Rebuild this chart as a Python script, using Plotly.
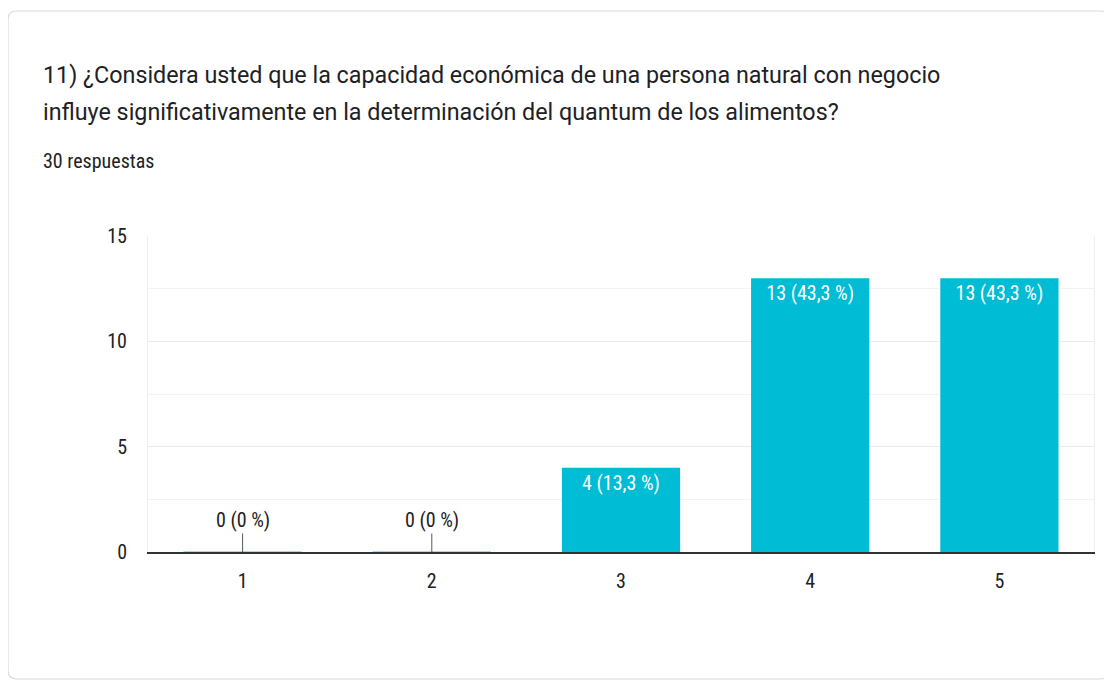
import plotly.graph_objects as go

categories = ["1", "2", "3", "4", "5"]
counts = [0, 0, 4, 13, 13]
total = 30
title_line1 = "11) ¿Considera usted que la capacidad económica de una persona natural con negocio"
title_line2 = "influye significativamente en la determinación del quantum de los alimentos?"
subtitle = "30 respuestas"

# page has an 8px body margin; work in page pixels and convert
OFF = 8
W, H = 1112 - OFF, 680 - OFF
PL, PR, PT, PB = 148, 1094, 236, 552  # plot area in page pixels
L, T = PL - OFF, PT - OFF
R, B = W - (PR - OFF), H - (PB - OFF)
PW, PH = PR - PL, PB - PT

def px(x):
    return (x - PL) / PW

def py(y):
    return (PB - y) / PH

def fmt_pct(v):
    p = round(v / total * 100, 1)
    s = ("%.1f" % p).rstrip("0").rstrip(".")
    return s.replace(".", ",")

labels = [f"{c} ({fmt_pct(c)} %)" for c in counts]
xs = [int(c) for c in categories]
bar_color = "#00bcd4"
narrow = "Liberation Sans Narrow, Arial Narrow, Roboto Condensed, Roboto, sans-serif"

fig = go.Figure()
fig.add_trace(go.Bar(
    x=xs, y=counts, width=0.625,
    marker=dict(color=bar_color, line=dict(width=0)),
    text=[l if c > 0 else "" for l, c in zip(labels, counts)],
    textposition="inside", insidetextanchor="end",
    textfont=dict(color="white", size=20, family=narrow),
    cliponaxis=False, hoverinfo="skip",
))

shapes = []
# card
x0, y0, x1, y1, r = 8, 11, 1109, 679, 9
path = (f"M {px(x0+r)} {py(y0)} L {px(x1-r)} {py(y0)} Q {px(x1)} {py(y0)} {px(x1)} {py(y0+r)} "
        f"L {px(x1)} {py(y1-r)} Q {px(x1)} {py(y1)} {px(x1-r)} {py(y1)} "
        f"L {px(x0+r)} {py(y1)} Q {px(x0)} {py(y1)} {px(x0)} {py(y1-r)} "
        f"L {px(x0)} {py(y0+r)} Q {px(x0)} {py(y0)} {px(x0+r)} {py(y0)} Z")
shapes.append(dict(type="path", path=path, xref="paper", yref="paper",
                   line=dict(color="#dadce0", width=1.2), fillcolor="rgba(0,0,0,0)", layer="below"))
# thin zero-value bars
for x, c in zip(xs, counts):
    if c == 0:
        shapes.append(dict(type="line", xref="x", yref="y", x0=x - 0.3125, x1=x + 0.3125, y0=0, y1=0,
                           line=dict(color="#9fdde6", width=2), layer="below"))

annotations = [
    dict(text=title_line1, xref="paper", yref="paper", x=px(41), y=py(75), xanchor="left", yanchor="middle",
         showarrow=False, font=dict(size=23.3, color="#202124", family="Roboto, sans-serif")),
    dict(text=title_line2, xref="paper", yref="paper", x=px(41), y=py(112), xanchor="left", yanchor="middle",
         showarrow=False, font=dict(size=23.3, color="#202124", family="Roboto, sans-serif")),
    dict(text=subtitle, xref="paper", yref="paper", x=px(41), y=py(161), xanchor="left", yanchor="middle",
         showarrow=False, font=dict(size=20, color="#202124", family=narrow)),
]
for x, c, l in zip(xs, counts, labels):
    if c == 0:
        annotations.append(dict(text=l, x=x, y=0, xref="x", yref="y", showarrow=True, arrowhead=0,
                                arrowwidth=1, arrowcolor="#555", ax=0, ay=-32,
                                font=dict(size=20, color="#222", family=narrow)))

fig.update_layout(
    width=W, height=H, margin=dict(l=L, r=R, t=T, b=B, autoexpand=False),
    paper_bgcolor="white", plot_bgcolor="white", showlegend=False,
    shapes=shapes, annotations=annotations, bargap=0.375,
    xaxis=dict(range=[0.5, 5.5], tickvals=xs, ticktext=categories, showgrid=False, zeroline=False,
               showline=True, linecolor="#333", linewidth=1.5, ticks="", ticklen=0,
               tickfont=dict(size=20, color="#222", family=narrow), ticklabelstandoff=10),
    yaxis=dict(range=[0, 15], dtick=5, tick0=0, showgrid=True, gridcolor="#ebebeb", gridwidth=1,
               minor=dict(dtick=2.5, showgrid=True, gridcolor="#f3f3f3", gridwidth=1),
               zeroline=False, showline=True, mirror=True, linecolor="#eeeeee", linewidth=1, ticks="",
               tickfont=dict(size=20, color="#222", family=narrow), ticklabelstandoff=16),
)
fig.write_html("out.html")
